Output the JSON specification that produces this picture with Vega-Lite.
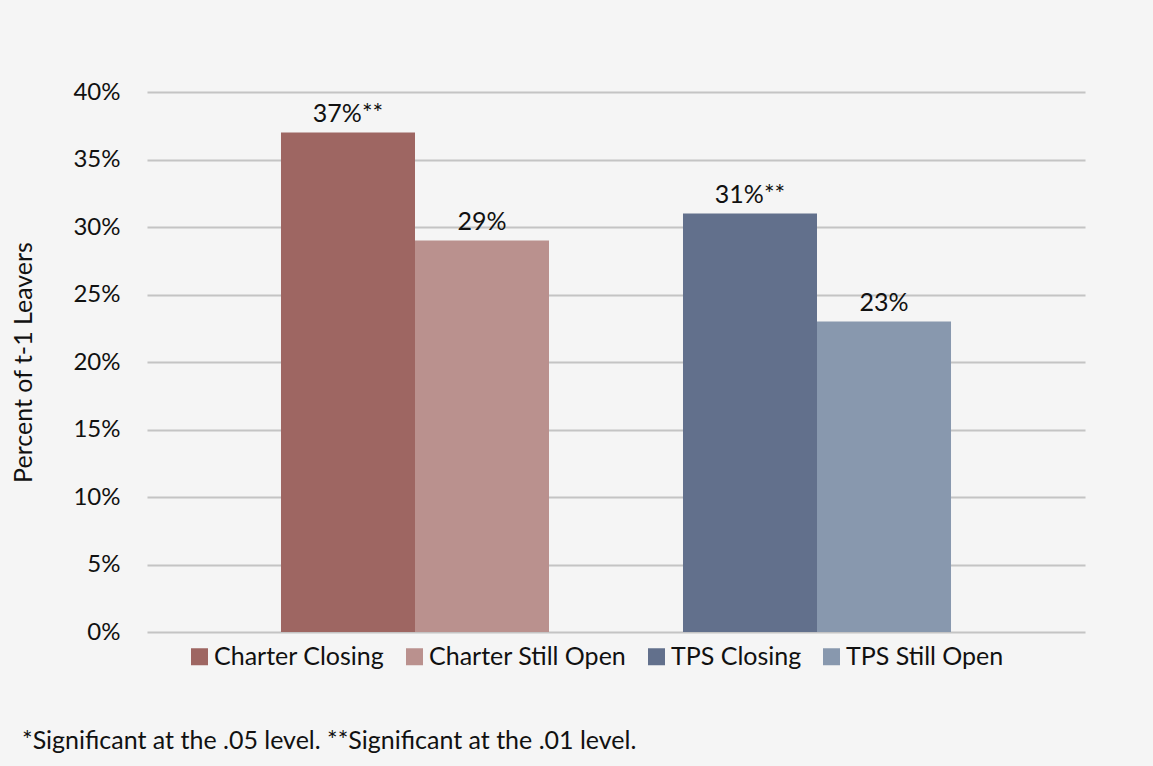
{
  "$schema": "https://vega.github.io/schema/vega-lite/v6.json",
  "width": 938,
  "height": 540,
  "autosize": {"type": "none"},
  "padding": {"left": 147, "top": 92, "right": 68, "bottom": 134},
  "background": "#f5f5f5",
  "config": {
    "font": "Lato",
    "view": {"stroke": null},
    "axis": {"labelFont": "Lato", "titleFont": "Lato"},
    "legend": {"labelFont": "Lato"},
    "title": {"font": "Lato"}
  },
  "title": {
    "text": "*Significant at the .05 level. **Significant at the .01 level.",
    "orient": "bottom",
    "anchor": "start",
    "frame": "group",
    "dx": -125,
    "offset": 59,
    "fontSize": 25,
    "fontWeight": "normal",
    "color": "#111111"
  },
  "data": {
    "values": [
      {"group": "Charter", "status": "Closing", "series": "Charter Closing", "value": 0.37, "label": "37%**"},
      {"group": "Charter", "status": "Still Open", "series": "Charter Still Open", "value": 0.29, "label": "29%"},
      {"group": "TPS", "status": "Closing", "series": "TPS Closing", "value": 0.31, "label": "31%**"},
      {"group": "TPS", "status": "Still Open", "series": "TPS Still Open", "value": 0.23, "label": "23%"}
    ]
  },
  "encoding": {
    "x": {
      "field": "group",
      "type": "nominal",
      "sort": ["Charter", "TPS"],
      "scale": {"paddingInner": 0.3333, "paddingOuter": 0.3333},
      "axis": null
    },
    "xOffset": {
      "field": "status",
      "type": "nominal",
      "sort": ["Closing", "Still Open"],
      "scale": {"paddingInner": 0, "paddingOuter": 0}
    },
    "y": {
      "field": "value",
      "type": "quantitative",
      "scale": {"domain": [0, 0.4]},
      "axis": {
        "values": [0, 0.05, 0.1, 0.15, 0.2, 0.25, 0.3, 0.35, 0.4],
        "format": ".0%",
        "title": "Percent of t-1 Leavers",
        "titleFontSize": 25,
        "titleFontWeight": "normal",
        "titleColor": "#111111",
        "titlePadding": 36,
        "labelFontSize": 24,
        "labelColor": "#111111",
        "labelPadding": 27,
        "ticks": false,
        "domain": false,
        "grid": true,
        "gridColor": "#c4c4c4",
        "gridWidth": 2
      }
    }
  },
  "layer": [
    {
      "mark": {"type": "bar"},
      "encoding": {
        "color": {
          "field": "series",
          "type": "nominal",
          "scale": {
            "domain": ["Charter Closing", "Charter Still Open", "TPS Closing", "TPS Still Open"],
            "range": ["#9e6662", "#ba918e", "#62708c", "#8898ae"]
          },
          "legend": {
            "title": null,
            "orient": "none",
            "legendX": 40,
            "legendY": 552,
            "direction": "horizontal",
            "symbolType": "square",
            "symbolSize": 289,
            "symbolStrokeWidth": 0,
            "labelFontSize": 25,
            "labelColor": "#111111",
            "labelOffset": 2,
            "labelLimit": 0,
            "columnPadding": 17
          }
        }
      }
    },
    {
      "mark": {"type": "text", "dy": -6, "fontSize": 25, "color": "#111111", "baseline": "bottom"},
      "encoding": {"text": {"field": "label"}}
    }
  ]
}
